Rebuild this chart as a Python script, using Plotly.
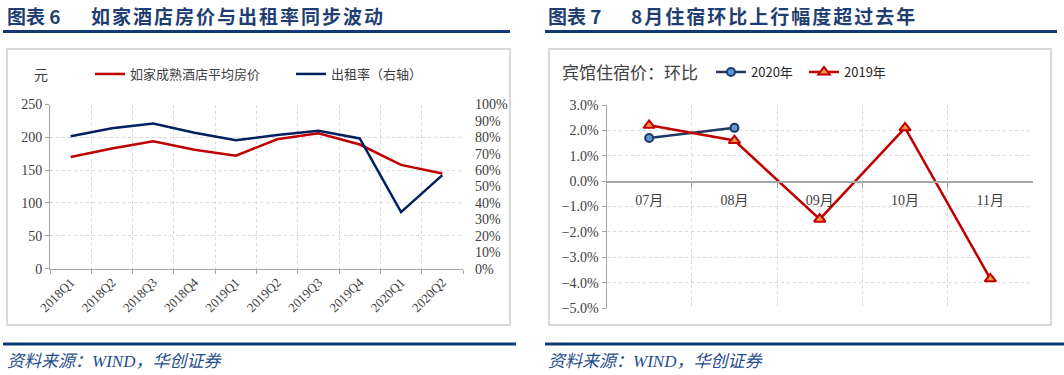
import plotly.graph_objects as go

# ---------------- data ----------------
quarters = ["2018Q1", "2018Q2", "2018Q3", "2018Q4", "2019Q1",
            "2019Q2", "2019Q3", "2019Q4", "2020Q1", "2020Q2"]
room_price = [170, 183, 194, 181, 172, 197, 206, 189, 158, 145]          # 元
occupancy = [0.807, 0.855, 0.884, 0.828, 0.782, 0.814, 0.840, 0.793, 0.344, 0.570]

months = ["07月", "08月", "09月", "10月", "11月"]
mom_2020 = [0.017, 0.021]
mom_2019 = [0.022, 0.016, -0.015, 0.021, -0.0385]

# ---------------- helpers ----------------
W, H = 1064, 375


def fx(px):
    return px / W


def fy(py):
    return 1 - py / H


NAVY = "#0f3a75"
RED = "#c00000"
DARK = "#002060"
GRID = "#d9d9d9"
AXIS = "#a6a6a6"
TXT = "#404040"
SERIF = "Liberation Serif, Noto Sans CJK SC"
SANS = "Noto Sans CJK SC"

fig = go.Figure()

# left chart
fig.add_trace(go.Scatter(x=quarters, y=room_price, mode="lines", name="如家成熟酒店平均房价",
                         line=dict(color=RED, width=2.5), xaxis="x", yaxis="y", legend="legend"))
fig.add_trace(go.Scatter(x=quarters, y=occupancy, mode="lines", name="出租率（右轴）",
                         line=dict(color=DARK, width=2.5), xaxis="x", yaxis="y2", legend="legend"))

# right chart
fig.add_trace(go.Scatter(x=months[:len(mom_2020)], y=mom_2020, mode="lines+markers", name="2020年",
                         line=dict(color="#1f3864", width=2.5),
                         marker=dict(symbol="circle", size=8, color="#5b9bd5",
                                     line=dict(color="#1f3864", width=2)),
                         xaxis="x3", yaxis="y3", legend="legend2"))
fig.add_trace(go.Scatter(x=months, y=mom_2019, mode="lines+markers", name="2019年",
                         line=dict(color=RED, width=2.5),
                         marker=dict(symbol="triangle-up", size=10, color="#f79646",
                                     line=dict(color=RED, width=2)),
                         xaxis="x3", yaxis="y3", legend="legend2"))
# category carrier for the zero-crossing label axis
fig.add_trace(go.Scatter(x=months, y=[None] * len(months), mode="lines", showlegend=False,
                         hoverinfo="skip", xaxis="x4", yaxis="y3"))

# domains
L_dom_x = [fx(50), fx(463)]
L_dom_y = [fy(268.6), fy(104.5)]
R_dom_x = [fx(606.5), fx(1033)]
R_dom_y = [fy(308), fy(105)]
r_lo, r_hi = -0.05, 0.03
zero_pos = R_dom_y[0] + (0 - r_lo) / (r_hi - r_lo) * (R_dom_y[1] - R_dom_y[0])

common = dict(automargin=False)

fig.update_layout(
    width=W, height=H,
    margin=dict(l=0, r=0, t=0, b=0, pad=0, autoexpand=False),
    paper_bgcolor="white", plot_bgcolor="white",
    showlegend=True,
    xaxis=dict(domain=L_dom_x, anchor="y", type="category", range=[-0.5, 9.5],
               categoryorder="array", categoryarray=quarters,
               tickson="boundaries", ticks="outside", ticklen=4, tickcolor=AXIS,
               showline=True, linecolor=AXIS, linewidth=1,
               showgrid=True, gridcolor=GRID, griddash="dot", gridwidth=1, zeroline=False,
               tickangle=-45, tickfont=dict(family=SERIF, size=13, color=TXT), **common),
    yaxis=dict(domain=L_dom_y, anchor="x", range=[0, 250], dtick=50,
               showline=True, linecolor=AXIS, ticks="outside", ticklen=4, tickcolor=AXIS,
               showgrid=True, gridcolor=GRID, griddash="dot", zeroline=False,
               tickfont=dict(family=SERIF, size=14, color=TXT), **common),
    yaxis2=dict(overlaying="y", side="right", anchor="x", range=[0, 1], dtick=0.1,
                tickformat=".0%", showgrid=False, showline=False, ticks="",
                zeroline=False, ticklabelstandoff=11,
                tickfont=dict(family=SERIF, size=14, color=TXT), **common),
    xaxis3=dict(domain=R_dom_x, anchor="y3", type="category", range=[-0.5, 4.5],
                categoryorder="array", categoryarray=months,
                tickson="boundaries", ticks="", showticklabels=False, showline=False,
                showgrid=True, gridcolor=GRID, griddash="dot", zeroline=False, **common),
    yaxis3=dict(domain=R_dom_y, anchor="x3", range=[r_lo, r_hi], dtick=0.01, tickformat=".1%",
                showline=True, linecolor=AXIS, ticks="outside", ticklen=4, tickcolor=AXIS,
                showgrid=True, gridcolor=GRID, griddash="dot", zeroline=False,
                tickfont=dict(family=SERIF, size=14, color=TXT), **common),
    xaxis4=dict(overlaying="x3", anchor="free", position=zero_pos, type="category",
                range=[-0.5, 4.5], categoryorder="array", categoryarray=months,
                tickson="boundaries", ticks="outside", ticklen=5, tickcolor=AXIS,
                showline=True, linecolor=AXIS, linewidth=1.5, showgrid=False, zeroline=False,
                ticklabelstandoff=6,
                tickfont=dict(family=SERIF, size=14, color=TXT), **common),
    legend=dict(orientation="h", x=fx(90), y=fy(74), xanchor="left", yanchor="middle",
                font=dict(family=SANS, size=13, color=TXT), bgcolor="rgba(0,0,0,0)",
                entrywidth=156, itemwidth=30, borderwidth=0),
    legend2=dict(orientation="h", x=fx(711), y=fy(72), xanchor="left", yanchor="middle",
                 font=dict(family=SANS, size=13, color="#262626"), bgcolor="rgba(0,0,0,0)",
                 entrywidth=48, itemwidth=30, borderwidth=0),
)

shapes = [
    dict(type="rect", xref="paper", yref="paper", x0=fx(7), x1=fx(510), y0=fy(325), y1=fy(49),
         line=dict(color=GRID, width=2), layer="below"),
    dict(type="rect", xref="paper", yref="paper", x0=fx(549), x1=fx(1051), y0=fy(325), y1=fy(49),
         line=dict(color=GRID, width=2), layer="below"),
    dict(type="line", xref="paper", yref="paper", x0=fx(3), x1=fx(510), y0=fy(31.5), y1=fy(31.5),
         line=dict(color=NAVY, width=3)),
    dict(type="line", xref="paper", yref="paper", x0=fx(545), x1=fx(1057), y0=fy(31.5), y1=fy(31.5),
         line=dict(color=NAVY, width=3)),
    dict(type="line", xref="paper", yref="paper", x0=fx(3), x1=fx(516), y0=fy(344), y1=fy(344),
         line=dict(color=NAVY, width=3)),
    dict(type="line", xref="paper", yref="paper", x0=fx(545), x1=fx(1064), y0=fy(344), y1=fy(344),
         line=dict(color=NAVY, width=3)),
]
fig.update_layout(shapes=shapes)

title_font = dict(family=SANS, size=19, color="#1f3f73", weight="bold")
foot_font = dict(family=SERIF, size=17, color="#1f4e8c", style="italic")


def spaced(t):
    return '<span style="letter-spacing:2px">' + t + '</span>'


annotations = [
    dict(text="图表 6", x=fx(5), y=fy(15), font=title_font),
    dict(text=spaced("如家酒店房价与出租率同步波动"), x=fx(89), y=fy(15), font=title_font),
    dict(text="图表 7", x=fx(546), y=fy(15), font=title_font),
    dict(text=spaced("8月住宿环比上行幅度超过去年"), x=fx(629), y=fy(15), font=title_font),
    dict(text="元", x=fx(32), y=fy(74), font=dict(family=SANS, size=14, color=TXT)),
    dict(text="宾馆住宿价：环比", x=fx(560), y=fy(72), font=dict(family=SANS, size=17, color=TXT)),
    dict(text="资料来源：WIND，华创证券", x=fx(5), y=fy(361), font=foot_font),
    dict(text="资料来源：WIND，华创证券", x=fx(546), y=fy(361), font=foot_font),
]
for a in annotations:
    a.update(xref="paper", yref="paper", xanchor="left", yanchor="middle", showarrow=False)
fig.update_layout(annotations=annotations)

fig.write_html("out.html",
               config={"displayModeBar": False, "staticPlot": True},
               post_script="document.body.style.margin='0px';document.body.style.overflow='hidden';")
